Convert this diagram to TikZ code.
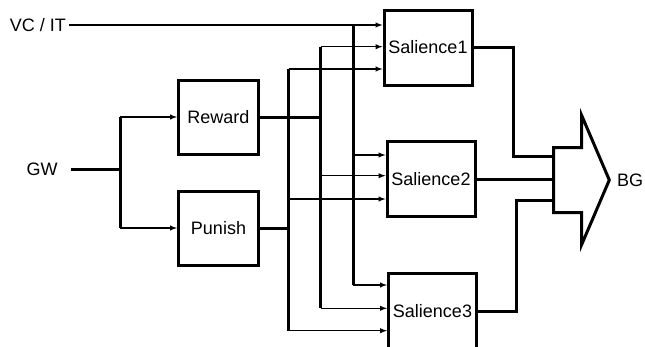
\documentclass[tikz,border=0pt]{standalone}
\usepackage{fontspec}
\setmainfont{Liberation Sans}
\usetikzlibrary{arrows,positioning}

\begin{document}
\begin{tikzpicture}[x=1pt,y=-1pt,>=latex,
	font=\fontsize{18}{22}\selectfont,
	lbl/.style={inner sep=0pt},
	blk/.style={draw,line width=3pt,minimum width=80pt,minimum height=74pt,inner sep=0pt},
	sal/.style={blk,minimum width=88pt,minimum height=75pt},
	bus/.style={line width=3pt},
	sig/.style={line width=1.4pt,->}]
	\useasboundingbox (0,0) rectangle (645,346);
	\node[lbl,inner xsep=3pt,anchor=east] (vcit) at (69,25) {VC / IT};
	\node[lbl,inner xsep=13pt] (gw) at (42,169) {GW};
	\node[blk] (reward) at (218.5,117) {Reward};
	\node[blk,below=34pt of reward] (punish) {Punish};
	\node[sal] (sal1) at (428,47.5) {Salience1};
	\node[sal] (sal2) at (431,179) {Salience2};
	\node[sal] (sal3) at (432.5,311) {Salience3};
	\node[lbl] (bgl) at (630,180) {BG};
	\coordinate (gwj) at (120,169);
	\coordinate (r1) at (320.5,46.7);
	\coordinate (r2) at (320.5,175.7);
	\coordinate (r3) at (320.5,308.3);
	\coordinate (p1) at (288.5,69);
	\coordinate (p2) at (288.5,199);
	\coordinate (p3) at (288.5,330.7);
	\coordinate (v1) at (353.3,25);
	\coordinate (v2) at (353.3,155);
	\coordinate (v3) at (353.3,285);
	\coordinate (o1) at (513.3,156.7);
	\coordinate (o3) at (516.7,200);
	\coordinate (bg) at (553.5,180);
	% GW splits into reward and punish
	\draw[bus] (gw) -- (gwj);
	\draw[bus] (gwj |- reward) -- (gwj |- punish);
	\draw[sig] (gwj |- reward) -- (reward);
	\draw[sig] (gwj |- punish) -- (punish);
	% buses
	\draw[bus] (reward) -- (reward -| r1);
	\draw[bus] (r1) -- (r3);
	\draw[bus] (punish) -- (punish -| p1);
	\draw[bus] (p1) -- (p3);
	\draw[sig] (vcit) -- (vcit -| sal1.west);
	\draw[bus] (v1) -- (v3);
	% inputs of the salience blocks
	\draw[sig] (r1) -- (r1 -| sal1.west);
	\draw[sig] (p1) -- (p1 -| sal1.west);
	\draw[sig] (v2) -- (v2 -| sal2.west);
	\draw[sig] (r2) -- (r2 -| sal2.west);
	\draw[sig] (p2) -- (p2 -| sal2.west);
	\draw[sig] (v3) -- (v3 -| sal3.west);
	\draw[sig] (r3) -- (r3 -| sal3.west);
	\draw[sig] (p3) -- (p3 -| sal3.west);
	% outputs to BG
	\draw[bus] (sal1) -| (o1) -- (o1 -| bg);
	\draw[bus] (sal2) -- (sal2 -| bg);
	\draw[bus] (sal3) -| (o3) -- (o3 -| bg);
	\draw[bus] (bg) ++(0,-32.5) -- ++(28.2,0) -- ++(0,-32) -- ++(27.6,64.5)
		-- ++(-27.6,64.5) -- ++(0,-32) -- ++(-28.2,0) -- cycle;
\end{tikzpicture}
\end{document}
